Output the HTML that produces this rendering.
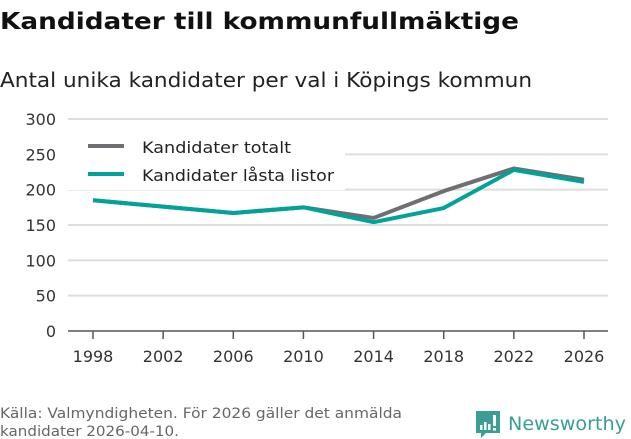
<!DOCTYPE html>
<html><head><meta charset="utf-8"><style>
body{margin:0;background:#fff;width:631px;height:439px;overflow:hidden}
svg{display:block;font-family:"DejaVu Sans","Liberation Sans",sans-serif}
</style></head><body>
<svg width="631" height="439" viewBox="0 0 631 439">
<text x="0" y="29" font-size="23" font-weight="bold" fill="#111" textLength="519" lengthAdjust="spacingAndGlyphs">Kandidater till kommunfullmäktige</text>
<text x="0" y="87" font-size="20" fill="#222" textLength="532" lengthAdjust="spacingAndGlyphs">Antal unika kandidater per val i Köpings kommun</text>
<g id="grid"></g>
<g id="yticks"></g>
<g id="xticks"></g>
<g id="lines"></g>
<rect x="60" y="128" width="285" height="62" fill="#fff"/>
<line x1="88" y1="146" x2="124" y2="146" stroke="#6f6e73" stroke-width="4"/>
<text x="142" y="153" font-size="16" fill="#222" textLength="149" lengthAdjust="spacingAndGlyphs">Kandidater totalt</text>
<line x1="88" y1="174" x2="124" y2="174" stroke="#00a39a" stroke-width="4"/>
<text x="142" y="181" font-size="16" fill="#222" textLength="192" lengthAdjust="spacingAndGlyphs">Kandidater låsta listor</text>
<text x="0" y="418" font-size="14" fill="#666" textLength="402" lengthAdjust="spacingAndGlyphs">Källa: Valmyndigheten. För 2026 gäller det anmälda</text>
<text x="0" y="436" font-size="14" fill="#666" textLength="179" lengthAdjust="spacingAndGlyphs">kandidater 2026-04-10.</text>
<g>
<path d="M476 411h24v22h-14l-5 5v-5h-5z" fill="#3a9e94"/>
<rect x="480" y="425" width="2.5" height="5" fill="#fff"/><rect x="484" y="422" width="2.5" height="8" fill="#fff"/><rect x="488" y="424" width="2.5" height="6" fill="#fff"/><rect x="493" y="415" width="3" height="11" fill="#fff"/><rect x="493" y="428" width="3" height="2.5" fill="#fff"/>
<text x="508" y="430" font-size="19" fill="#3a9e94" textLength="118" lengthAdjust="spacingAndGlyphs">Newsworthy</text>
</g>
</svg>
<script>
const years=[1998,2002,2006,2010,2014,2018,2022,2026];
const totalValues=[185,176,167,175,160,198,230,214];
const lockedValues=[185,176,167,175,154,174,228,211];
const yTicks=[0,50,100,150,200,250,300];
const NS="http://www.w3.org/2000/svg";
const x=v=>93+(v-1998)*(584-93)/28;
const y=v=>331-v*(331-119)/300;
function mk(tag,attrs,parent){const e=document.createElementNS(NS,tag);for(const k in attrs)e.setAttribute(k,attrs[k]);document.getElementById(parent).appendChild(e);return e;}
yTicks.forEach(t=>{
 const l=mk('line',{x1:68,x2:608,y1:y(t),y2:y(t),stroke:t===0?'#555':'#ddd','stroke-width':t===0?1.5:2},'grid');
 
 
 const tx=mk('text',{x:56,y:y(t)+6,'text-anchor':'end','font-size':16,fill:'#333'},'yticks');
 tx.textContent=t;
 
 
});
years.forEach(yr=>{
 const tk=mk('line',{x1:x(yr),x2:x(yr),y1:331,y2:339,stroke:'#555','stroke-width':1.5},'xticks');
 
 
 const tx=mk('text',{x:x(yr),y:362,'text-anchor':'middle','font-size':16,fill:'#333'},'xticks');
 tx.textContent=yr;
 
 
});
function line(vals,color,name){
 const p=mk('polyline',{points:vals.map((v,i)=>x(years[i])+','+y(v)).join(' '),fill:'none',stroke:color,'stroke-width':4,'stroke-linejoin':'round'},'lines');
 
 
}
line(totalValues,'#6f6e73','line-total');
line(lockedValues,'#00a39a','line-locked');
</script>
</body></html>
